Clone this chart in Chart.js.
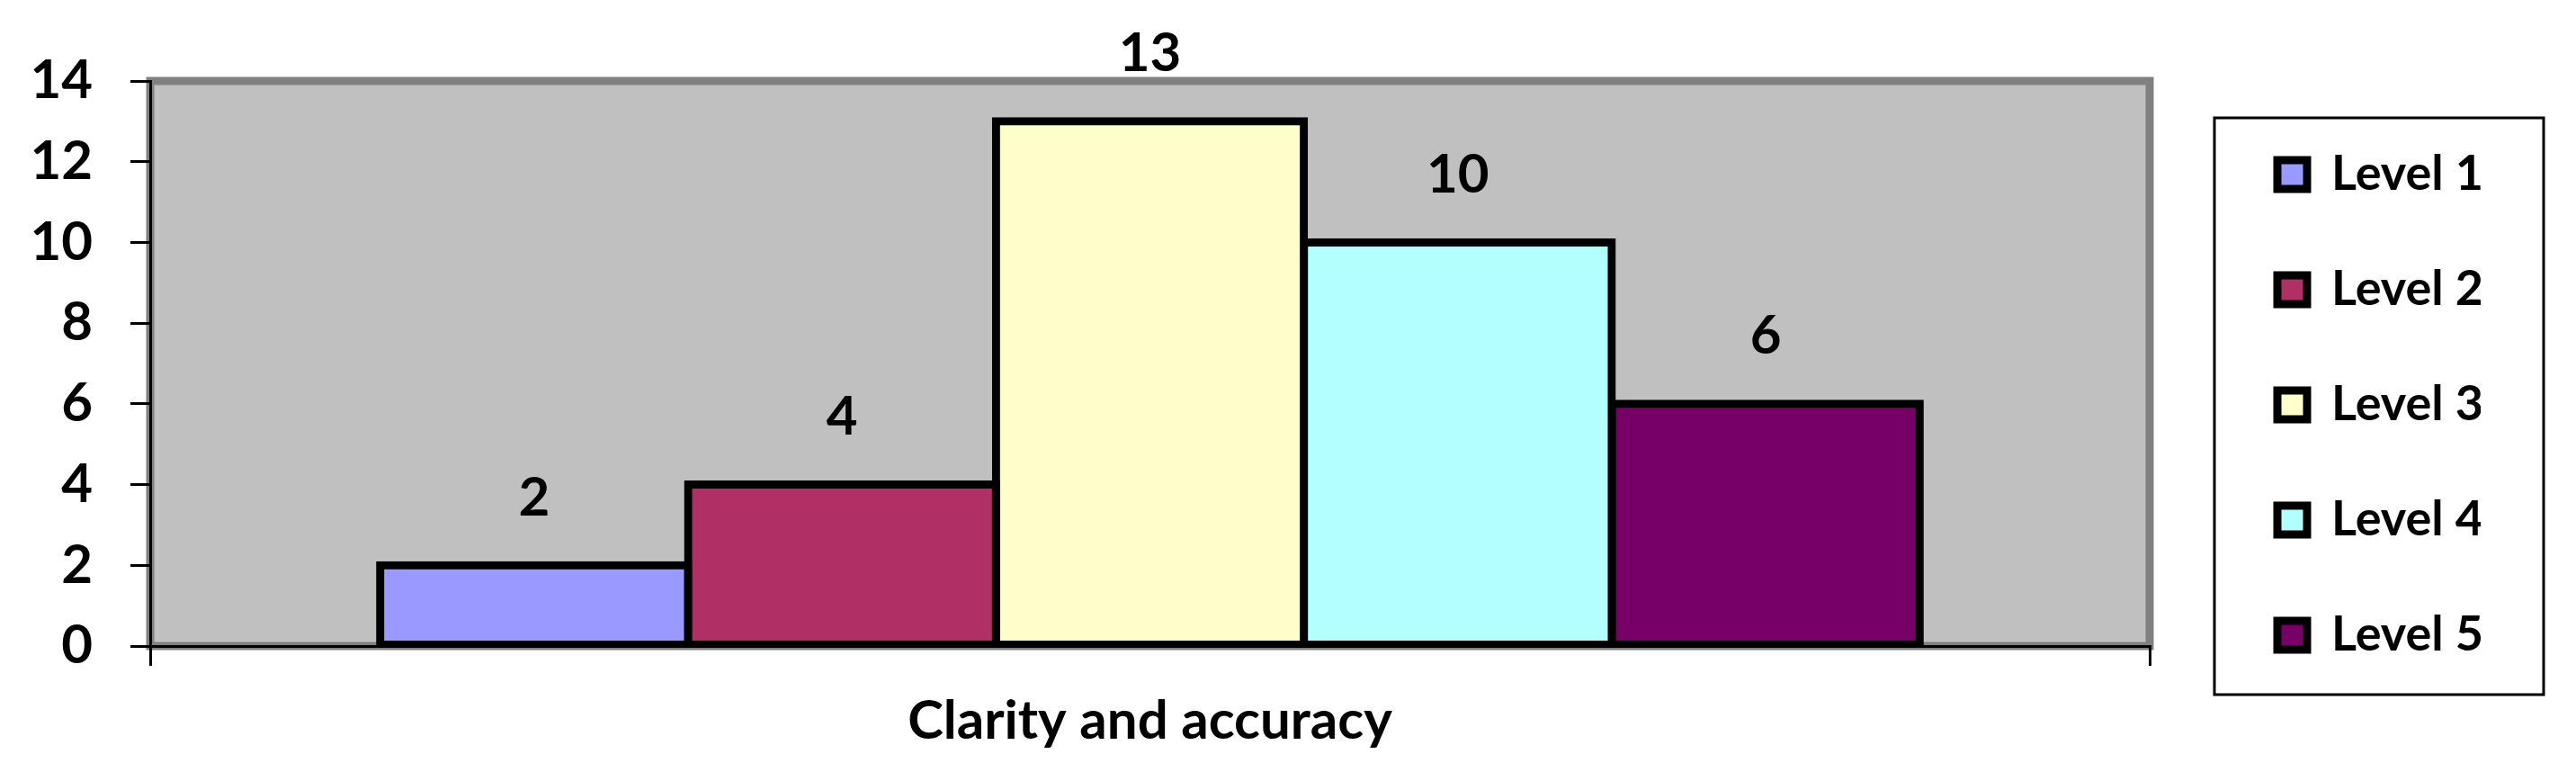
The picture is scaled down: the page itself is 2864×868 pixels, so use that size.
<!DOCTYPE html>
<html>
<head>
<meta charset="utf-8">
<script src="https://cdn.jsdelivr.net/npm/chart.js@4.4.1/dist/chart.umd.min.js"></script>
<style>
  body { margin: 0; background: #fff; }
</style>
</head>
<body>
<canvas id="mycanvas" width="2864" height="868"></canvas>
<script>
var categories = ['Clarity and accuracy'];
var levels = ['Level 1', 'Level 2', 'Level 3', 'Level 4', 'Level 5'];
var counts = [2, 4, 13, 10, 6];
var colours = ['#9999FF', '#B03066', '#FFFFCC', '#B3FFFF', '#760066'];
var yTicks = [0, 2, 4, 6, 8, 10, 12, 14];

Chart.defaults.font.family = 'Lato';
Chart.defaults.font.weight = 'bold';
Chart.defaults.color = '#000';

// grey plot area with darker frame (Excel look)
var plotFrame = {
  id: 'plotFrame',
  beforeDraw: function(chart) {
    var ca = chart.chartArea, ctx = chart.ctx;
    ctx.save();
    ctx.fillStyle = '#C0C0C0';
    ctx.fillRect(ca.left, ca.top, ca.right - ca.left, ca.bottom - ca.top);
    ctx.strokeStyle = '#808080';
    ctx.lineWidth = 9;
    ctx.strokeRect(ca.left, ca.top, ca.right - ca.left, ca.bottom - ca.top);
    ctx.restore();
  }
};

// push legend away from plot and draw its box
var legendBox = {
  id: 'legendBox',
  afterLayout: function(chart) {
    var lg = chart.legend;
    lg.left += 68; lg.right += 68;
    lg.top -= 27; lg.bottom -= 27;
  },
  afterDraw: function(chart) {
    var lg = chart.legend, hb = lg.legendHitBoxes;
    if (!hb || !hb.length) return;
    var ctx = chart.ctx;
    var first = hb[0], last = hb[hb.length - 1];
    ctx.save();
    ctx.strokeStyle = '#000';
    ctx.lineWidth = 3;
    ctx.strokeRect(first.left - 70, first.top - 36, 366, last.top + last.height + 39 - (first.top - 36));
    ctx.restore();
  }
};

// value labels above the bars
var valueLabels = {
  id: 'valueLabels',
  afterDatasetsDraw: function(chart) {
    var ctx = chart.ctx;
    ctx.save();
    ctx.font = 'bold 60px Lato';
    ctx.fillStyle = '#000';
    ctx.textAlign = 'center';
    ctx.textBaseline = 'middle';
    chart.data.datasets.forEach(function(ds, i) {
      chart.getDatasetMeta(i).data.forEach(function(bar, j) {
        ctx.fillText(ds.data[j], bar.x, bar.y - 75);
      });
    });
    ctx.restore();
  }
};

var datasets = levels.map(function(name, i) {
  return {
    label: name,
    data: [counts[i]],
    backgroundColor: colours[i],
    borderColor: '#000',
    borderWidth: 9,
    borderSkipped: false,
    inflateAmount: 4.5,
    categoryPercentage: 0.77,
    barPercentage: 1
  };
});

var ctx = document.getElementById('mycanvas');
var barGraph = new Chart(ctx, {
  type: 'bar',
  data: { labels: categories, datasets: datasets },
  options: {
    responsive: false,
    animation: false,
    devicePixelRatio: 1,
    layout: { padding: { left: 0, top: 90, right: 174, bottom: 4 } },
    plugins: {
      tooltip: { enabled: false },
      legend: {
        position: 'right',
        maxWidth: 300,
        labels: {
          font: { size: 54, weight: 'bold' },
          boxWidth: 33,
          boxHeight: 32,
          padding: 74
        }
      }
    },
    scales: {
      x: {
        grid: { drawOnChartArea: false, color: '#000', lineWidth: 3, tickLength: 22 },
        border: { color: '#000', width: 3 },
        ticks: { font: { size: 60 }, padding: 26 }
      },
      y: {
        min: yTicks[0],
        max: yTicks[yTicks.length - 1],
        grid: { drawOnChartArea: false, color: '#000', lineWidth: 3, tickLength: 22 },
        border: { color: '#000', width: 3 },
        ticks: { stepSize: yTicks[1] - yTicks[0], font: { size: 60 }, padding: 42 },
        afterFit: function(s) { s.width = 167; }
      }
    }
  },
  plugins: [plotFrame, legendBox, valueLabels]
});
</script>
</body>
</html>
